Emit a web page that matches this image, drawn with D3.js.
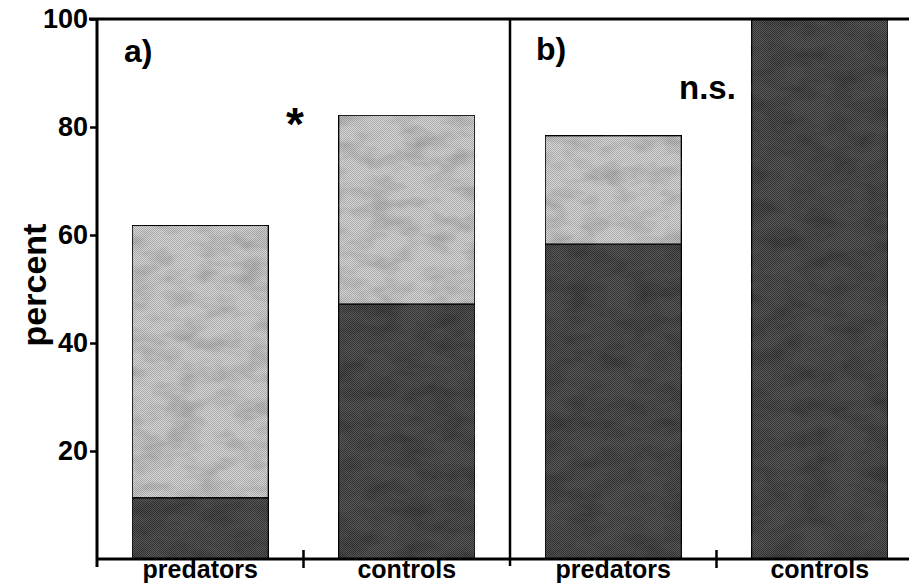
<!DOCTYPE html>
<html>
<head>
<meta charset="utf-8">
<script src="https://cdn.jsdelivr.net/npm/d3@7"></script>
<style>
  body { margin: 0; background: #fff; }
  svg { display: block; font-family: "Liberation Sans", Arial, sans-serif; font-weight: bold; }
</style>
</head>
<body>
<svg id="chart" width="909" height="584"></svg>
<script>
// data
const categories = ["a-predators", "a-controls", "b-predators", "b-controls"];
const catLabels = ["predators", "controls", "predators", "controls"];
const darkValues = [11.3, 47.2, 58.3, 100];   // lower, dark segment
const totalValues = [61.8, 82.2, 78.4, 100];  // top of light segment
const yTicks = [20, 40, 60, 80, 100];
const panelLabels = ["a)", "b)"];
const sigLabels = ["*", "n.s."];

const svg = d3.select("#chart");

const y = d3.scaleLinear().domain([0, 100]).range([559, 19]);
const x = d3.scaleBand().domain(categories).range([97, 923])
  .paddingInner(0.34).paddingOuter(0.17);

// textures: halftone checker + mottled noise
const defs = svg.append("defs");
function makePattern(id, c1, c2) {
  const p = defs.append("pattern").attr("id", id)
    .attr("width", 2).attr("height", 2).attr("patternUnits", "userSpaceOnUse");
  p.append("rect").attr("width", 2).attr("height", 2).attr("fill", c1);
  p.append("rect").attr("width", 1).attr("height", 1).attr("fill", c2);
  p.append("rect").attr("x", 1).attr("y", 1).attr("width", 1).attr("height", 1).attr("fill", c2);
}
makePattern("lightTex", "#d6d6d6", "#ababab");
makePattern("darkTex", "#5a5a5a", "#363636");

const f = defs.append("filter").attr("id", "mottle")
  .attr("x", 0).attr("y", 0).attr("width", 1).attr("height", 1);
f.append("feTurbulence").attr("type", "fractalNoise")
  .attr("baseFrequency", "0.03 0.06").attr("numOctaves", 3).attr("seed", 7).attr("result", "noise");
f.append("feColorMatrix").attr("in", "noise").attr("type", "matrix")
  .attr("values", "0 0 0 0 0  0 0 0 0 0  0 0 0 0 0  0 0 0 -0.7 0.42").attr("result", "shade");
f.append("feComposite").attr("in", "shade").attr("in2", "SourceGraphic").attr("operator", "in").attr("result", "shadeIn");
f.append("feMerge").selectAll("feMergeNode").data(["SourceGraphic", "shadeIn"])
  .enter().append("feMergeNode").attr("in", d => d);

// bars
const bars = svg.append("g");
bars.selectAll("rect.light")
  .data(categories.map((c, i) => ({ c, lo: darkValues[i], hi: totalValues[i] })).filter(d => d.hi > d.lo))
  .enter().append("rect")
  .attr("class", "light")
  .attr("x", d => x(d.c))
  .attr("width", x.bandwidth())
  .attr("y", d => y(d.hi))
  .attr("height", d => y(d.lo) - y(d.hi))
  .attr("fill", "url(#lightTex)")
  .attr("filter", "url(#mottle)")
  .attr("stroke", "#111").attr("stroke-width", 1.5);

bars.selectAll("rect.dark")
  .data(categories.map((c, i) => ({ c, v: darkValues[i] })))
  .enter().append("rect")
  .attr("class", "dark")
  .attr("x", d => x(d.c))
  .attr("width", x.bandwidth())
  .attr("y", d => y(d.v))
  .attr("height", d => y(0) - y(d.v))
  .attr("fill", "url(#darkTex)")
  .attr("filter", "url(#mottle)")
  .attr("stroke", "#111").attr("stroke-width", 1.5);

// frame lines
const x0 = x.range()[0];
const divX = x.range()[0] + x.step() * 2;
svg.append("line").attr("x1", x0 - 8).attr("x2", 909).attr("y1", y(100)).attr("y2", y(100))
  .attr("stroke", "#000").attr("stroke-width", 3);
svg.append("line").attr("x1", x0).attr("x2", 909).attr("y1", y(0)).attr("y2", y(0))
  .attr("stroke", "#000").attr("stroke-width", 3);
svg.append("line").attr("x1", divX).attr("x2", divX).attr("y1", y(100)).attr("y2", y(0) + 7)
  .attr("stroke", "#000").attr("stroke-width", 2.5);

// y axis
const yAxis = svg.append("g").attr("transform", `translate(${x0},0)`)
  .call(d3.axisLeft(y).tickValues(yTicks).tickSize(7).tickSizeOuter(0).tickPadding(2));
yAxis.select(".domain").attr("stroke-width", 3);
yAxis.selectAll(".tick line").attr("stroke-width", 2.5);
yAxis.selectAll(".tick text").attr("font-size", 27).attr("font-weight", "bold")
  .attr("font-family", "Liberation Sans, Arial, sans-serif").attr("fill", "#000");
yAxis.select(".domain").attr("d", `M0,${y(0) + 8}V${y(100)}`);

// x category boundaries ticks
const bounds = [1, 3].map(k => x0 + x.step() * k);
svg.selectAll("line.btick").data(bounds).enter().append("line")
  .attr("x1", d => d).attr("x2", d => d)
  .attr("y1", y(0) - 9).attr("y2", y(0) + 9)
  .attr("stroke", "#000").attr("stroke-width", 2.5);

// category labels
svg.selectAll("text.cat").data(categories).enter().append("text")
  .attr("x", d => x(d) + x.bandwidth() / 2)
  .attr("y", 578)
  .attr("text-anchor", "middle")
  .attr("font-size", 25)
  .text((d, i) => catLabels[i]);

// y title
svg.append("text")
  .attr("transform", `translate(46,${y(50) - 4}) rotate(-90)`)
  .attr("text-anchor", "middle")
  .attr("font-size", 34)
  .text("percent");

// panel labels
svg.append("text").attr("x", 124).attr("y", 62).attr("font-size", 32).text(panelLabels[0]);
svg.append("text").attr("x", 536).attr("y", 60).attr("font-size", 32).text(panelLabels[1]);
svg.append("text").attr("x", 295).attr("y", 140).attr("text-anchor", "middle").attr("font-size", 46).text(sigLabels[0]);
svg.append("text").attr("x", 679).attr("y", 99).attr("font-size", 33).text(sigLabels[1]);
</script>
</body>
</html>
